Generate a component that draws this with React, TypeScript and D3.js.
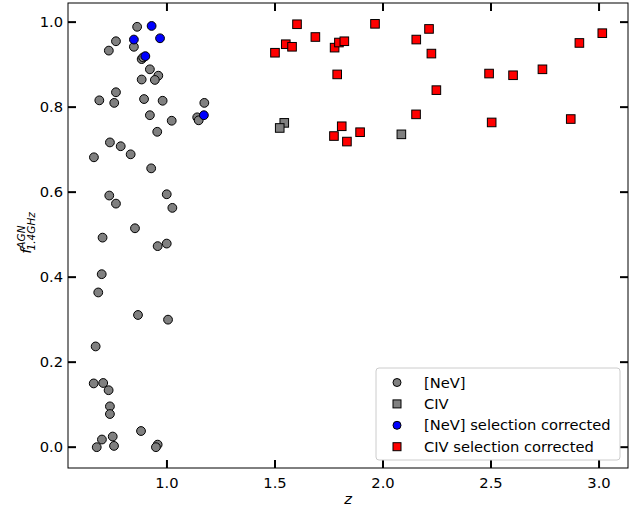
import * as d3 from 'd3';

// [NeV] sample (grey circles)
const nevZ = [0.862, 0.764, 0.731, 0.847, 0.883, 0.890, 0.921, 0.960, 0.883, 0.944, 0.764, 0.687, 0.756, 0.894, 0.980, 1.173, 1.140, 1.147, 0.921, 1.022, 0.955, 0.736, 0.786, 0.832, 0.662, 0.927, 0.733, 0.764, 0.999, 1.025, 0.852, 0.702, 0.957, 0.999, 0.698, 0.682, 0.866, 1.005, 0.670, 0.661, 0.705, 0.730, 0.736, 0.736, 0.880, 0.749, 0.699, 0.675, 0.755, 0.957, 0.949];
const nevF = [0.989, 0.955, 0.933, 0.942, 0.913, 0.917, 0.889, 0.874, 0.865, 0.864, 0.835, 0.816, 0.810, 0.819, 0.815, 0.810, 0.776, 0.769, 0.781, 0.768, 0.742, 0.717, 0.708, 0.689, 0.682, 0.656, 0.592, 0.573, 0.595, 0.563, 0.515, 0.493, 0.473, 0.479, 0.407, 0.364, 0.311, 0.300, 0.237, 0.150, 0.151, 0.134, 0.096, 0.078, 0.038, 0.025, 0.018, 0.000, 0.003, 0.006, 0.000];

// CIV sample (grey squares)
const civZ = [1.543, 1.522, 2.085];
const civF = [0.763, 0.751, 0.736];

// [NeV] selection corrected (blue circles)
const nevCorrZ = [0.929, 0.847, 0.968, 0.900, 1.171];
const nevCorrF = [0.991, 0.959, 0.962, 0.920, 0.781];

// CIV selection corrected (red squares)
const civCorrZ = [1.602, 1.687, 1.550, 1.579, 1.500, 1.776, 1.796, 1.821, 1.963, 2.213, 2.154, 2.224, 1.788, 2.247, 2.153, 1.809, 1.773, 1.833, 1.894, 3.015, 2.909, 2.491, 2.602, 2.738, 2.503, 2.869];
const civCorrF = [0.995, 0.965, 0.948, 0.942, 0.928, 0.940, 0.952, 0.955, 0.996, 0.984, 0.959, 0.926, 0.877, 0.840, 0.783, 0.755, 0.732, 0.719, 0.741, 0.974, 0.951, 0.879, 0.875, 0.889, 0.764, 0.772];

const xTicks = [1.0, 1.5, 2.0, 2.5, 3.0];
const yTicks = [0.0, 0.2, 0.4, 0.6, 0.8, 1.0];
const legendLabels = ['[NeV]', 'CIV', '[NeV] selection corrected', 'CIV selection corrected'];

const W = 638;
const H = 507;
const left = 68;
const right = 628;
const top = 3;
const bottom = 468;
const font = 'DejaVu Sans, sans-serif';
const fs = 14.7;

const App = () => {
  const x = d3.scaleLinear().domain([0.542, 3.134]).range([left, right]);
  const y = d3.scaleLinear().domain([-0.049, 1.045]).range([bottom, top]);
  const r = 4.4;
  const s = 8.6;

  const circles = (zs: number[], vals: number[], fill: string) =>
    zs.map((z, i) => (
      <circle key={fill + i} cx={x(z)} cy={y(vals[i])} r={r} fill={fill} stroke="black" strokeWidth={1} />
    ));
  const squares = (zs: number[], vals: number[], fill: string) =>
    zs.map((z, i) => (
      <rect key={fill + i} x={x(z) - s / 2} y={y(vals[i]) - s / 2} width={s} height={s} fill={fill} stroke="black" strokeWidth={1} />
    ));

  const legendMarkers = [
    (cx: number, cy: number) => <circle cx={cx} cy={cy} r={4} fill="grey" stroke="black" />,
    (cx: number, cy: number) => <rect x={cx - 4} y={cy - 4} width={8} height={8} fill="grey" stroke="black" />,
    (cx: number, cy: number) => <circle cx={cx} cy={cy} r={4} fill="blue" stroke="black" />,
    (cx: number, cy: number) => <rect x={cx - 4} y={cy - 4} width={8} height={8} fill="red" stroke="black" />,
  ];

  return (
    <svg width={W} height={H} style={{ position: 'absolute', left: 0, top: 0, background: 'white' }}>
      {/* ticks (inward, all four sides) */}
      {xTicks.map(t => (
        <g key={'x' + t}>
          <line x1={x(t)} x2={x(t)} y1={bottom} y2={bottom - 8} stroke="black" strokeWidth={2} />
          <line x1={x(t)} x2={x(t)} y1={top} y2={top + 8} stroke="black" strokeWidth={2} />
          <text x={x(t)} y={488} textAnchor="middle" fontFamily={font} fontSize={fs}>{t.toFixed(1)}</text>
        </g>
      ))}
      {yTicks.map(t => (
        <g key={'y' + t}>
          <line x1={left} x2={left + 8} y1={y(t)} y2={y(t)} stroke="black" strokeWidth={2} />
          <line x1={right} x2={right - 8} y1={y(t)} y2={y(t)} stroke="black" strokeWidth={2} />
          <text x={63} y={y(t)} dy="0.35em" textAnchor="end" fontFamily={font} fontSize={fs}>{t.toFixed(1)}</text>
        </g>
      ))}

      {circles(nevZ, nevF, 'grey')}
      {squares(civZ, civF, 'grey')}
      {circles(nevCorrZ, nevCorrF, 'blue')}
      {squares(civCorrZ, civCorrF, 'red')}

      <rect x={left} y={top} width={right - left} height={bottom - top} fill="none" stroke="black" strokeWidth={1} />

      {/* legend */}
      <rect x={376} y={368} width={244} height={92} rx={3} fill="white" fillOpacity={0.8} stroke="#cccccc" strokeWidth={1} />
      {legendLabels.map((lab, i) => {
        const cy = 382.5 + i * 21.4;
        return (
          <g key={lab}>
            {legendMarkers[i](397, cy)}
            <text x={424} y={cy} dy="0.35em" fontFamily={font} fontSize={fs}>{lab}</text>
          </g>
        );
      })}

      {/* axis labels */}
      <text x={348} y={504} textAnchor="middle" fontFamily={font} fontSize={fs} fontStyle="italic">z</text>
      <text transform="translate(31,233) rotate(-90)" textAnchor="middle" fontFamily={font} fontSize={fs} fontStyle="italic">
        f
        <tspan dy={-6} fontSize={10.5}>AGN</tspan>
        <tspan dx={-25} dy={10} fontSize={10.5}>1.4GHz</tspan>
      </text>
    </svg>
  );
};

export default App;
